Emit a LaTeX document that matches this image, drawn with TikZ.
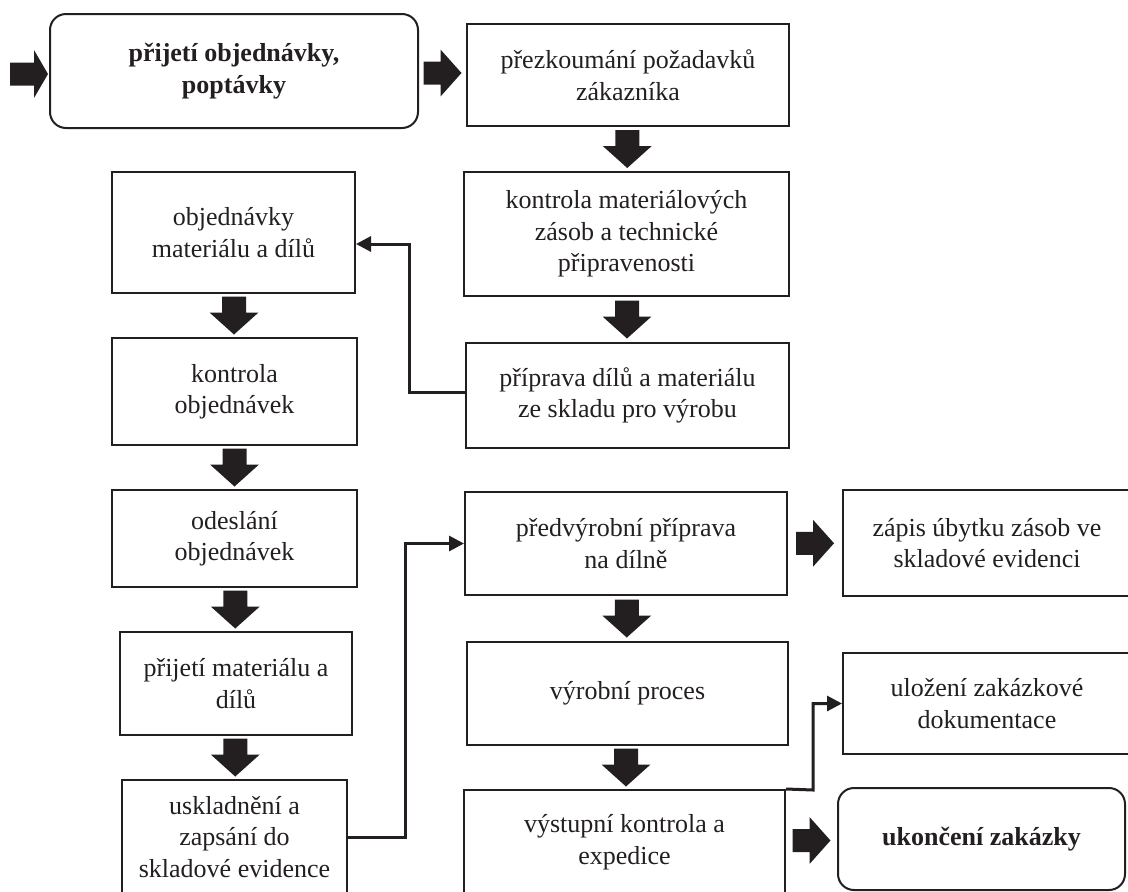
\documentclass[tikz,border=0pt]{standalone}
\usepackage{fontspec}
\setmainfont{Liberation Serif}
\usetikzlibrary{calc,arrows.meta}
\definecolor{ink}{RGB}{35,31,32}
\begin{document}
\begin{tikzpicture}[x=1pt,y=-1pt,
  box/.style={draw=ink, line width=2pt, align=center, inner sep=0pt,
    text=ink, font=\fontsize{26}{31.5}\selectfont},
  terminal/.style={box, rounded corners=16pt,
    font=\fontsize{26}{31.5}\selectfont\bfseries},
  conn/.style={draw=ink, line width=3pt, -{Triangle[length=15pt,width=15pt]}},
  blockdown/.pic={\fill[ink] (-12,-19) -- (12,-19) -- (12,-3) -- (24.5,-3)
    -- (0,19) -- (-24.5,-3) -- (-12,-3) -- cycle;},
  blockright/.pic={\fill[ink] (-19,-11.5) -- (-2,-11.5) -- (-2,-23.5)
    -- (19,0) -- (-2,23.5) -- (-2,11.5) -- (-19,11.5) -- cycle;},
  entryarrow/.pic={\fill[ink] (-19,-11.5) -- (5,-11.5) -- (5,-24)
    -- (19,0) -- (5,24) -- (5,11.5) -- (-19,11.5) -- cycle;},
]
\useasboundingbox (0,0) rectangle (1128,892);

% main flow
\node[terminal, minimum width=368pt, minimum height=114pt] (start) at (234,71)
  {přijetí objednávky,\\ poptávky};
\node[box, minimum width=322pt, minimum height=102pt] (rev) at (628,75)
  {přezkoumání požadavků\\ zákazníka};
\node[box, minimum width=325pt, minimum height=124pt] (kmat) at (626.5,234)
  {kontrola materiálových\\ zásob a technické\\ připravenosti};
\node[box, minimum width=323pt, minimum height=105pt] (prip) at (627.5,395.5)
  {příprava dílů a materiálu\\ ze skladu pro výrobu};

% purchasing branch
\node[box, minimum width=243pt, minimum height=121pt] (objm) at (233.5,232.5)
  {objednávky\\ materiálu a dílů};
\node[box, minimum width=245pt, minimum height=107pt] (kobj) at (234.5,391.5)
  {kontrola\\ objednávek};
\node[box, minimum width=245pt, minimum height=97pt] (odes) at (234.5,538.5)
  {odeslání\\ objednávek};
\node[box, minimum width=232pt, minimum height=103pt] (prij) at (236,683.5)
  {přijetí materiálu a\\ dílů};
\node[box, minimum width=225pt, minimum height=114pt] (usk) at (234.5,837)
  {uskladnění a\\ zapsání do\\ skladové evidence};

% production
\node[box, minimum width=322pt, minimum height=103pt] (pred) at (626,543.5)
  {předvýrobní příprava\\ na dílně};
\node[box, minimum width=288pt, minimum height=106pt] (zap) at (987,543)
  {zápis úbytku zásob ve\\ skladové evidenci};
\node[box, minimum width=321pt, minimum height=103pt] (vyr) at (627.5,693.5)
  {výrobní proces};
\node[box, minimum width=288pt, minimum height=101pt] (ulo) at (987,703.5)
  {uložení zakázkové\\ dokumentace};
\node[box, minimum width=321pt, minimum height=104pt] (vys) at (624.5,842)
  {výstupní kontrola a\\ expedice};
\node[terminal, minimum width=287pt, minimum height=102pt] (uko) at (981.5,839)
  {ukončení zakázky};

% block arrows
\pic at (29,74) {entryarrow};
\pic at ($(start.east)!0.5!(rev.west)$) {blockright};
\pic at ($(rev.south)!0.5!(kmat.north)$) {blockdown};
\pic at ($(kmat.south)!0.5!(prip.north)$) {blockdown};
\pic at ($(objm.south)!0.5!(kobj.north)$) {blockdown};
\pic at ($(kobj.south)!0.5!(odes.north)$) {blockdown};
\pic at ($(odes.south)!0.5!(prij.north)$) {blockdown};
\pic at ($(prij.south)!0.5!(usk.north)$) {blockdown};
\pic at ($(pred.east)!0.5!(zap.west)$) {blockright};
\pic at ($(pred.south)!0.5!(vyr.north)$) {blockdown};
\pic at ($(vyr.south)!0.5!(vys.north)$) {blockdown};
\pic at ($(vys.east)!0.5!(uko.west)$) {blockright};

% line connectors
\draw[conn] (prip.west |- 0,392) -- (409,392) |- (objm.east |- 0,244);
\draw[conn] (usk.east) -- (405,837) |- (pred.west);
\draw[conn] (vys.north east) -- (813,790) |- (ulo.west);
\end{tikzpicture}
\end{document}
